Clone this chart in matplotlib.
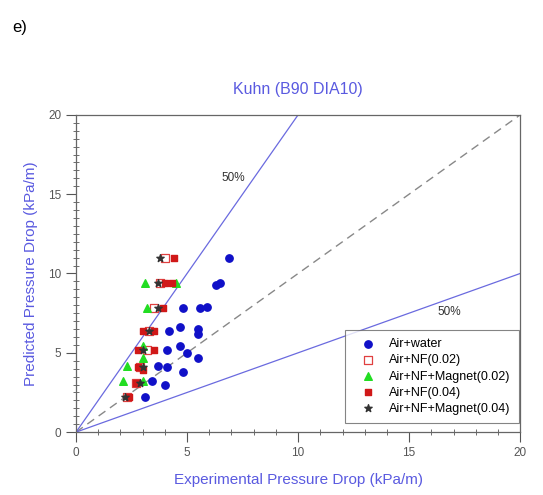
import numpy as np
import matplotlib
matplotlib.use('Agg')
import matplotlib.pyplot as plt
from matplotlib.ticker import MultipleLocator

plt.rcParams['font.family'] = ['Liberation Sans', 'DejaVu Sans']

# data (kPa/m)
water_x = [6.9, 6.5, 6.3, 4.8, 5.6, 5.9, 4.2, 4.7, 5.5, 5.5, 4.1, 4.7, 5.0, 5.5, 3.7, 4.1, 4.8, 3.4, 4.0, 3.1]
water_y = [11.0, 9.4, 9.3, 7.8, 7.8, 7.9, 6.4, 6.6, 6.5, 6.2, 5.2, 5.4, 5.0, 4.7, 4.2, 4.1, 3.8, 3.2, 3.0, 2.2]

nf02_x = [2.3, 2.7, 2.9, 3.2, 3.3, 3.5, 3.8, 4.0]
nf02_y = [2.2, 3.1, 4.1, 5.2, 6.4, 7.8, 9.4, 11.0]

nfm02_x = [2.1, 2.3, 3.0, 3.0, 3.2, 3.1, 4.5, 3.0]
nfm02_y = [3.2, 4.2, 3.2, 4.7, 7.8, 9.4, 9.4, 5.4]

nf04_x = [2.4, 2.7, 2.8, 3.0, 2.8, 3.5, 3.0, 3.5, 3.9, 4.0, 4.3, 4.4]
nf04_y = [2.2, 3.1, 4.1, 3.9, 5.2, 5.2, 6.4, 6.4, 7.8, 9.4, 9.4, 11.0]

nfm04_x = [2.2, 2.9, 3.0, 3.0, 3.3, 3.7, 3.7, 3.8]
nfm04_y = [2.2, 3.1, 4.1, 5.2, 6.4, 7.8, 9.4, 11.0]

line_color = '#6a6adf'
label_color = '#5a5ae0'

fig = plt.figure(figsize=(5.43, 4.95), dpi=100)
ax = fig.add_axes([0.140, 0.127, 0.818, 0.641])

ref = np.array([0, 20])
ax.plot(ref, ref, color='#888888', ls=(0, (6, 4)), lw=1.0, zorder=1)
ax.plot(ref, 2 * ref, color=line_color, lw=0.9, zorder=1)
ax.plot(ref, 0.5 * ref, color=line_color, lw=0.9, zorder=1)

ax.scatter(water_x, water_y, s=28, c='#1010c8', marker='o', label='Air+water', zorder=3)
ax.scatter(nf02_x, nf02_y, s=26, facecolors='white', edgecolors='#e04040', marker='s',
           linewidths=0.9, label='Air+NF(0.02)', zorder=3)
ax.scatter(nfm02_x, nfm02_y, s=30, c='#22dd22', marker='^', label='Air+NF+Magnet(0.02)', zorder=3)
ax.scatter(nf04_x, nf04_y, s=24, c='#d01818', marker='s', label='Air+NF(0.04)', zorder=3)
ax.scatter(nfm04_x, nfm04_y, s=30, c='#333333', marker='*', label='Air+NF+Magnet(0.04)', zorder=4)

ax.text(7.1, 16.0, '50%', fontsize=8.5, color='#333333', ha='center', va='center')
ax.text(16.8, 7.6, '50%', fontsize=8.5, color='#333333', ha='center', va='center')

ax.set_xlim(0, 20)
ax.set_ylim(0, 20)
ax.xaxis.set_major_locator(MultipleLocator(5))
ax.yaxis.set_major_locator(MultipleLocator(5))
ax.xaxis.set_minor_locator(MultipleLocator(1))
ax.yaxis.set_minor_locator(MultipleLocator(0.5))
ax.tick_params(which='major', direction='out', length=7, width=0.8, colors='#555555',
               labelsize=8.5, labelcolor='#555555', pad=3.5)
ax.tick_params(which='minor', direction='inout', length=4, width=0.6, colors='#555555')
for sp in ax.spines.values():
    sp.set_color('#666666')
    sp.set_linewidth(0.9)

ax.set_title('Kuhn (B90 DIA10)', fontsize=11.5, color=label_color, pad=15)
ax.set_xlabel('Experimental Pressure Drop (kPa/m)', fontsize=11, color=label_color, labelpad=10)
ax.set_ylabel('Predicted Pressure Drop (kPa/m)', fontsize=11, color=label_color, labelpad=7)

leg = ax.legend(loc='lower right', bbox_to_anchor=(0.998, 0.028), fontsize=9, frameon=True,
                fancybox=False, edgecolor='#666666', handletextpad=0.6, borderpad=0.68,
                labelspacing=0.33, scatterpoints=1, handlelength=2.3, borderaxespad=0)
leg.get_frame().set_linewidth(0.8)

fig.text(0.022, 0.945, 'e)', fontsize=12, color='black', va='center')

fig.savefig('out.png', dpi=100)
